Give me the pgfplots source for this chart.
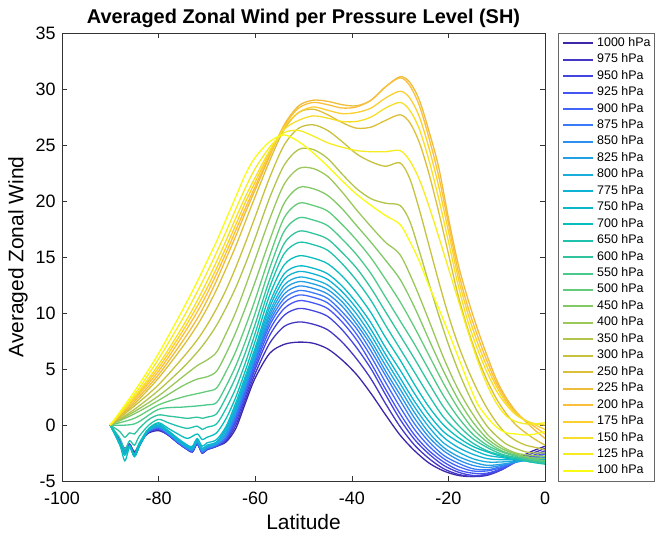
\documentclass[border=0pt]{standalone}
\usepackage{fontspec}
\setmainfont{Liberation Sans}
\usepackage{pgfplots}
\usepackage{pgfplotstable}
\pgfplotsset{compat=1.18}

\definecolor{c1000}{rgb}{0.242,0.150,0.660}
\definecolor{c975}{rgb}{0.257,0.210,0.760}
\definecolor{c950}{rgb}{0.268,0.270,0.870}
\definecolor{c925}{rgb}{0.280,0.330,0.955}
\definecolor{c900}{rgb}{0.260,0.400,0.990}
\definecolor{c875}{rgb}{0.220,0.480,0.980}
\definecolor{c850}{rgb}{0.170,0.570,0.930}
\definecolor{c825}{rgb}{0.130,0.630,0.890}
\definecolor{c800}{rgb}{0.100,0.680,0.860}
\definecolor{c775}{rgb}{0.050,0.700,0.830}
\definecolor{c750}{rgb}{0.040,0.720,0.790}
\definecolor{c700}{rgb}{0.030,0.745,0.740}
\definecolor{c650}{rgb}{0.120,0.760,0.680}
\definecolor{c600}{rgb}{0.190,0.770,0.620}
\definecolor{c550}{rgb}{0.290,0.790,0.550}
\definecolor{c500}{rgb}{0.390,0.795,0.480}
\definecolor{c450}{rgb}{0.510,0.790,0.400}
\definecolor{c400}{rgb}{0.610,0.780,0.350}
\definecolor{c350}{rgb}{0.700,0.770,0.290}
\definecolor{c300}{rgb}{0.780,0.760,0.240}
\definecolor{c250}{rgb}{0.860,0.750,0.220}
\definecolor{c225}{rgb}{0.930,0.740,0.230}
\definecolor{c200}{rgb}{0.990,0.750,0.230}
\definecolor{c175}{rgb}{0.990,0.810,0.190}
\definecolor{c150}{rgb}{0.970,0.870,0.160}
\definecolor{c125}{rgb}{0.966,0.927,0.125}
\definecolor{c100}{rgb}{0.977,0.984,0.080}

% lower levels: 1000 ... 750 hPa
\pgfplotstableread{
lat a1000 a975 a950 a925 a900 a875 a850 a825 a800 a775 a750
-90 0 0 0 0 0 0 0 0 0 0 0
-89 -0.7 -0.7 -0.8 -0.8 -0.8 -0.8 -0.8 -0.8 -0.8 -0.8 -0.9
-88 -1.4 -1.5 -1.5 -1.5 -1.6 -1.6 -1.6 -1.6 -1.7 -1.7 -1.8
-87 -2.1 -2.2 -2.3 -2.3 -2.4 -2.4 -2.4 -2.5 -2.5 -2.6 -2.7
-86 -1.7 -1.7 -1.8 -1.8 -1.8 -1.8 -1.9 -1.9 -1.9 -1.9 -1.9
-85 -2.4 -2.5 -2.6 -2.6 -2.7 -2.7 -2.7 -2.8 -2.8 -2.8 -2.8
-84 -1.7 -1.8 -1.8 -1.8 -1.9 -1.9 -1.9 -1.9 -1.9 -1.9 -1.8
-83 -1.1 -1.1 -1.1 -1.1 -1.1 -1.1 -1.1 -1.1 -1.1 -1.0 -0.9
-82 -0.7 -0.6 -0.6 -0.6 -0.5 -0.5 -0.5 -0.5 -0.4 -0.4 -0.3
-80 -0.5 -0.4 -0.4 -0.3 -0.3 -0.2 -0.2 -0.1 -0.1 0.0 0.1
-78 -0.9 -0.9 -0.9 -0.8 -0.8 -0.8 -0.7 -0.7 -0.7 -0.6 -0.5
-76 -1.6 -1.6 -1.6 -1.6 -1.5 -1.5 -1.5 -1.4 -1.4 -1.3 -1.2
-74 -2.2 -2.2 -2.2 -2.2 -2.1 -2.1 -2.1 -2.0 -2.0 -1.9 -1.8
-73 -2.4 -2.4 -2.4 -2.3 -2.3 -2.3 -2.2 -2.2 -2.1 -2.0 -1.9
-72 -1.7 -1.7 -1.6 -1.6 -1.6 -1.5 -1.5 -1.5 -1.4 -1.3 -1.2
-71 -2.5 -2.5 -2.5 -2.4 -2.4 -2.4 -2.3 -2.3 -2.2 -2.1 -1.9
-70 -2.2 -2.2 -2.2 -2.1 -2.1 -2.1 -2.0 -2.0 -1.9 -1.8 -1.6
-68 -1.9 -1.9 -1.9 -1.8 -1.8 -1.8 -1.7 -1.7 -1.6 -1.5 -1.3
-66 -1.5 -1.4 -1.3 -1.2 -1.1 -1.0 -0.8 -0.7 -0.5 -0.3 -0.1
-64 -0.3 0.0 0.3 0.5 0.7 0.9 1.1 1.3 1.5 1.7 2.0
-62 2.0 2.3 2.6 2.9 3.1 3.3 3.5 3.7 3.9 4.1 4.4
-60 4.2 4.6 5.0 5.3 5.6 5.8 6.0 6.2 6.4 6.6 6.9
-57 6.4 7.3 8.0 8.5 8.9 9.2 9.5 9.8 10.1 10.5 10.9
-54 7.2 8.8 9.8 10.4 10.9 11.3 11.7 12.1 12.5 13.0 13.5
-51 7.4 9.2 10.4 11.1 11.6 12.0 12.4 12.8 13.2 13.7 14.2
-48 7.3 9.0 10.2 10.9 11.4 11.8 12.2 12.6 13.0 13.5 14.0
-45 6.8 8.5 9.7 10.4 10.9 11.3 11.7 12.1 12.5 13.0 13.5
-42 5.8 7.4 8.5 9.2 9.7 10.1 10.6 11.0 11.4 11.9 12.4
-39 4.5 5.9 6.9 7.6 8.1 8.6 9.0 9.4 9.9 10.4 10.9
-36 2.8 4.1 5.0 5.5 6.1 6.6 7.1 7.5 8.0 8.5 9.1
-33 0.9 1.9 2.7 3.2 3.8 4.4 4.8 5.3 5.8 6.3 6.9
-30 -0.9 -0.15 0.5 1.0 1.6 2.2 2.7 3.2 3.7 4.2 4.9
-27 -2.3 -1.8 -1.3 -0.9 -0.4 0.1 0.6 1.1 1.6 2.1 2.8
-24 -3.4 -3.0 -2.6 -2.3 -1.9 -1.5 -1.1 -0.7 -0.2 0.3 0.9
-21 -4.1 -3.9 -3.6 -3.3 -3.0 -2.7 -2.3 -2.0 -1.6 -1.1 -0.6
-18 -4.5 -4.4 -4.2 -4.0 -3.7 -3.4 -3.1 -2.8 -2.4 -2.0 -1.5
-15 -4.6 -4.6 -4.5 -4.3 -4.1 -3.9 -3.6 -3.3 -3.0 -2.6 -2.2
-12 -4.4 -4.5 -4.4 -4.3 -4.1 -4.0 -3.8 -3.6 -3.3 -3.0 -2.7
-9 -3.9 -4.0 -4.0 -3.9 -3.8 -3.7 -3.6 -3.5 -3.3 -3.1 -2.9
-6 -3.1 -3.2 -3.3 -3.3 -3.3 -3.3 -3.3 -3.3 -3.2 -3.1 -3.1
-3 -2.4 -2.6 -2.8 -2.9 -3.0 -3.0 -3.1 -3.1 -3.1 -3.2 -3.2
0 -1.9 -2.1 -2.3 -2.5 -2.6 -2.8 -2.9 -3.0 -3.1 -3.2 -3.3
}\tabA

% 700, 650, 600 hPa
\pgfplotstableread{
lat b700 b650 b600
-90 0 0 0
-88 -1.8 -1.2 -0.6
-87 -3.2 -2.2 -1.1
-86 -2.0 -1.4 -0.7
-85 -2.6 -1.8 -0.8
-84 -1.6 -1.0 -0.3
-82 -0.3 0.0 0.5
-80 0.2 0.5 0.9
-78 -0.3 0.2 0.8
-76 -0.8 -0.1 0.7
-74 -1.2 -0.3 0.6
-72 -0.8 -0.1 0.7
-71 -1.3 -0.4 0.6
-70 -1.1 -0.2 0.7
-68 -0.7 0.1 1.0
-66 0.6 1.5 2.5
-64 2.5 3.3 4.3
-62 4.9 5.6 6.5
-60 7.5 8.2 9.0
-57 11.6 12.3 13.0
-54 14.3 15.3 16.2
-51 15.1 16.3 17.3
-48 14.9 16.1 17.1
-45 14.4 15.6 16.6
-42 13.3 14.4 15.4
-39 11.8 12.9 14.0
-36 10.0 11.1 12.2
-33 7.8 8.9 10.1
-30 5.8 6.8 8.0
-27 3.6 4.7 5.9
-24 1.6 2.6 3.7
-21 0.0 0.7 1.6
-18 -1.1 -0.6 0.0
-15 -1.9 -1.6 -1.2
-12 -2.4 -2.3 -2.0
-9 -2.8 -2.7 -2.6
-6 -3.0 -3.0 -2.9
-3 -3.3 -3.3 -3.2
0 -3.4 -3.5 -3.4
}\tabB

% 550, 500, 450, 400 hPa
\pgfplotstableread{
lat c550 c500 c450 c400
-90 0 0 0 0
-85 0.1 0.6 1.0 1.2
-80 1.4 1.8 2.2 2.6
-75 1.6 2.5 3.5 4.3
-72 1.7 2.8 4.1 5.3
-70 1.8 3.0 4.3 5.8
-68 2.0 3.3 4.8 6.5
-66 3.5 4.8 6.4 8.2
-64 5.3 6.6 8.3 10.1
-62 7.5 8.8 10.5 12.4
-60 10.0 11.2 12.8 14.8
-57 14.0 15.1 16.5 18.4
-54 17.3 18.5 19.8 21.5
-51 18.5 19.8 21.2 22.9
-48 18.3 19.6 21.1 22.9
-45 17.8 19.1 20.5 22.2
-42 16.6 17.9 19.3 20.8
-39 15.2 16.5 17.8 19.2
-36 13.5 14.9 16.3 17.7
-33 11.4 13.0 14.7 16.3
-30 9.3 11.0 13.0 15.2
-27 7.2 8.7 10.5 12.5
-24 4.9 6.2 7.6 9.3
-21 2.6 3.7 4.8 6.0
-18 0.7 1.5 2.3 3.2
-15 -0.8 -0.3 0.3 1.0
-12 -1.8 -1.5 -1.2 -0.8
-9 -2.4 -2.3 -2.1 -1.9
-6 -2.8 -2.7 -2.6 -2.5
-3 -3.1 -3.0 -2.9 -2.7
0 -3.3 -3.2 -3.0 -2.8
}\tabC

% 350 ... 100 hPa
\pgfplotstableread{
lat d350 d300 d250 d225 d200 d175 d150 d125 d100
-90 0 0 0 0 0 0 0 0 0
-85 1.4 1.7 1.9 2.1 2.3 2.4 2.5 2.7 3.0
-80 3.1 3.6 4.2 4.5 4.8 5.1 5.4 5.9 6.4
-75 5.1 6.0 7.0 7.5 8.0 8.4 8.8 9.5 10.3
-72 6.5 7.6 8.9 9.5 10.1 10.6 11.1 11.9 12.8
-70 7.6 8.9 10.4 11.1 11.7 12.2 12.8 13.6 14.6
-68 8.9 10.4 12.1 12.9 13.5 14.0 14.6 15.4 16.4
-66 10.5 12.1 14.0 14.9 15.4 15.9 16.5 17.3 18.4
-64 12.3 14.1 16.0 16.9 17.4 17.9 18.5 19.3 20.4
-62 14.4 16.3 18.2 19.0 19.4 19.9 20.4 21.2 22.4
-60 16.7 18.6 20.4 21.0 21.3 21.7 22.1 22.9 23.9
-57 20.3 22.1 23.6 24.0 24.1 24.3 24.5 24.8 25.3
-54 23.2 25.0 26.4 26.8 26.7 26.6 26.4 26.1 25.9
-51 24.6 26.5 27.9 28.5 28.3 27.9 27.2 26.3 25.3
-48 24.6 26.8 28.2 29.0 28.8 28.4 27.6 25.8 24.3
-45 23.8 26.3 27.7 28.9 28.6 28.1 27.4 25.2 23.1
-42 22.4 25.3 27.0 28.6 28.3 27.8 27.1 24.8 21.8
-39 21.1 24.2 26.5 28.5 28.4 27.9 27.1 24.5 20.6
-36 20.2 23.5 26.6 29.0 29.0 28.3 27.5 24.4 19.6
-33 19.8 23.1 27.2 30.2 30.2 29.2 28.3 24.4 18.7
-30 19.6 23.4 27.7 31.1 31.0 29.8 28.8 24.5 17.9
-28 18.2 22.0 27.0 30.6 30.3 29.2 28.1 23.6 16.4
-26 15.5 19.2 25.2 29.0 28.5 27.5 26.4 21.9 14.6
-24 12.6 16.0 22.4 26.2 25.6 24.7 23.6 19.5 12.4
-22 9.8 12.8 19.0 23.0 22.2 21.3 20.2 16.8 10.4
-20 7.2 9.8 15.3 18.5 18.0 17.3 16.4 14.0 8.3
-18 4.9 7.2 11.6 14.4 13.8 13.2 12.5 11.2 6.1
-16 2.9 5.0 8.6 11.3 10.6 10.0 9.3 8.4 3.9
-14 1.2 3.1 6.1 8.6 8.0 7.4 6.8 5.8 1.9
-12 -0.1 1.5 4.0 6.2 5.7 5.2 4.7 3.6 0.7
-10 -1.0 0.2 2.3 4.0 3.7 3.4 3.0 1.9 -0.2
-8 -1.7 -0.8 1.0 2.4 2.2 2.0 1.8 0.8 -0.7
-6 -2.1 -1.4 0.0 1.2 1.1 1.0 0.9 0.3 -0.8
-4 -2.4 -1.8 -0.7 0.3 0.4 0.4 0.4 0.1 -0.9
-2 -2.5 -2.0 -1.3 -0.5 -0.2 0.0 0.1 0.1 -0.8
0 -2.5 -2.2 -1.8 -1.2 -0.8 -0.4 0.0 0.2 -0.6
}\tabD

\begin{document}
\begin{tikzpicture}
\path[use as bounding box] (0,0) rectangle (656bp,537bp);
\begin{axis}[
  at={(62bp,56bp)}, anchor=south west,
  scale only axis, width=483bp, height=448bp,
  xmin=-100, xmax=0, ymin=-5, ymax=35,
  xtick={-100,-80,-60,-40,-20,0},
  ytick={-5,0,5,10,15,20,25,30,35},
  tick align=inside,
  major tick length=5bp,
  axis line style={black!80, line width=0.6bp},
  every tick/.style={black!80, line width=0.6bp},
  tick label style={font=\fontsize{18}{18}\selectfont},
  xticklabel style={yshift=-7bp},
  yticklabel style={xshift=-3bp},
  /pgf/number format/assume math mode=true,
  xlabel={Latitude},
  ylabel={Averaged Zonal Wind},
  label style={font=\fontsize{21}{21}\selectfont},
  xlabel style={at={(axis description cs:0.5,0)}, anchor=base, yshift=-48bp, inner sep=0pt},
  ylabel style={at={(axis description cs:-0.0704,0.5)}, anchor=south, inner sep=0pt},
  title={Averaged Zonal Wind per Pressure Level (SH)},
  title style={at={(axis description cs:0.5,1)}, anchor=south, yshift=-1bp, inner sep=0pt,
    font=\fontsize{20}{20}\selectfont\bfseries},
  no markers,
  every axis plot/.append style={line width=1.3bp, smooth, tension=0.5},
  legend style={at={(1,1)}, anchor=north west, xshift=13bp, draw=black!60,
    fill=white, font=\fontsize{12.5}{12.5}\selectfont,
    inner xsep=4bp, inner ysep=4.5bp, row sep=5.45bp, column sep=3bp,
    nodes={inner sep=0pt, text height=8.5bp, text depth=2.5bp}},
  legend cell align=left,
  legend image code/.code={\draw[#1, line width=2bp] (0bp,0bp) -- (30bp,0bp);},
]
\addplot[c1000] table[x=lat,y=a1000] {\tabA}; \addlegendentry{1000 hPa}
\addplot[c975] table[x=lat,y=a975] {\tabA}; \addlegendentry{975 hPa}
\addplot[c950] table[x=lat,y=a950] {\tabA}; \addlegendentry{950 hPa}
\addplot[c925] table[x=lat,y=a925] {\tabA}; \addlegendentry{925 hPa}
\addplot[c900] table[x=lat,y=a900] {\tabA}; \addlegendentry{900 hPa}
\addplot[c875] table[x=lat,y=a875] {\tabA}; \addlegendentry{875 hPa}
\addplot[c850] table[x=lat,y=a850] {\tabA}; \addlegendentry{850 hPa}
\addplot[c825] table[x=lat,y=a825] {\tabA}; \addlegendentry{825 hPa}
\addplot[c800] table[x=lat,y=a800] {\tabA}; \addlegendentry{800 hPa}
\addplot[c775] table[x=lat,y=a775] {\tabA}; \addlegendentry{775 hPa}
\addplot[c750] table[x=lat,y=a750] {\tabA}; \addlegendentry{750 hPa}
\addplot[c700] table[x=lat,y=b700] {\tabB}; \addlegendentry{700 hPa}
\addplot[c650] table[x=lat,y=b650] {\tabB}; \addlegendentry{650 hPa}
\addplot[c600] table[x=lat,y=b600] {\tabB}; \addlegendentry{600 hPa}
\addplot[c550] table[x=lat,y=c550] {\tabC}; \addlegendentry{550 hPa}
\addplot[c500] table[x=lat,y=c500] {\tabC}; \addlegendentry{500 hPa}
\addplot[c450] table[x=lat,y=c450] {\tabC}; \addlegendentry{450 hPa}
\addplot[c400] table[x=lat,y=c400] {\tabC}; \addlegendentry{400 hPa}
\addplot[c350] table[x=lat,y=d350] {\tabD}; \addlegendentry{350 hPa}
\addplot[c300] table[x=lat,y=d300] {\tabD}; \addlegendentry{300 hPa}
\addplot[c250] table[x=lat,y=d250] {\tabD}; \addlegendentry{250 hPa}
\addplot[c225] table[x=lat,y=d225] {\tabD}; \addlegendentry{225 hPa}
\addplot[c200] table[x=lat,y=d200] {\tabD}; \addlegendentry{200 hPa}
\addplot[c175] table[x=lat,y=d175] {\tabD}; \addlegendentry{175 hPa}
\addplot[c150] table[x=lat,y=d150] {\tabD}; \addlegendentry{150 hPa}
\addplot[c125] table[x=lat,y=d125] {\tabD}; \addlegendentry{125 hPa}
\addplot[c100] table[x=lat,y=d100] {\tabD}; \addlegendentry{100 hPa}
\end{axis}
\end{tikzpicture}
\end{document}
